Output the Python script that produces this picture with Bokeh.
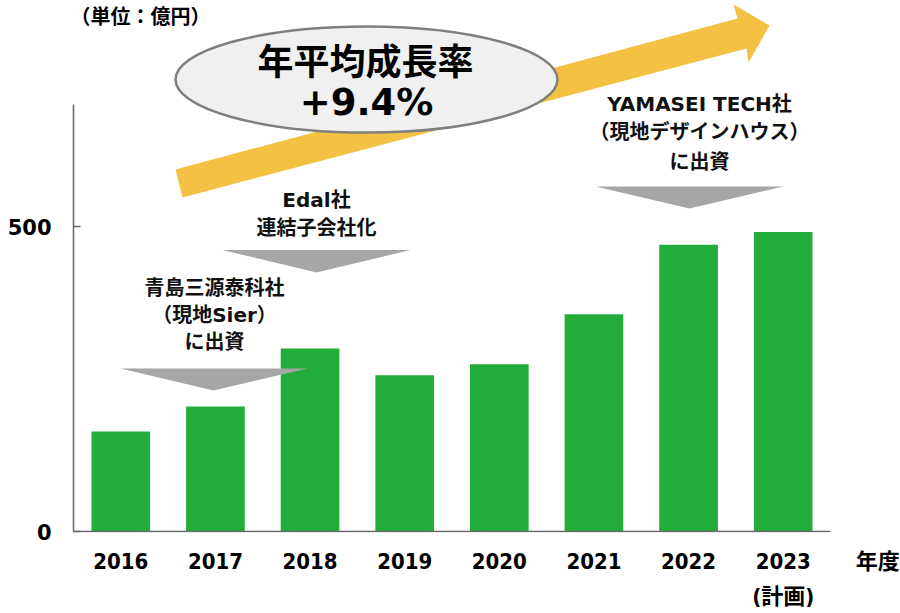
from bokeh.plotting import figure
from bokeh.models import Range1d, FixedTicker
from bokeh.core.properties import value
from bokeh.embed import file_html
from bokeh.resources import INLINE

# ---------------- data ----------------
years = ["2016", "2017", "2018", "2019", "2020", "2021", "2022", "2023"]
year_tick_labels = ["2016", "2017", "2018", "2019", "2020", "2021", "2022", "2023\n(計画)"]
sales = [164, 205, 300, 256, 274, 356, 470, 491]
y_ticks = [0, 500]
unit_text = "（単位：億円）"
x_title = "年度"
cagr_title = "年平均成長率"
cagr_value = "+9.4%"
event1_lines = ["青島三源泰科社", "（現地Sier）", "に出資"]
event2_lines = ["Edal社", "連結子会社化"]
event3_lines = ["YAMASEI TECH社", "（現地デザインハウス）", "に出資"]

# ---------------- layout ----------------
W, H = 900, 613
AX_L, AX_R = 73, 830          # x-axis line extent (page px)
Y0_PX = 531                   # y = 0 position (page px)
FRAME_B = 532                 # frame bottom (page px)
PX_PER_UNIT = 0.61
N = len(years)
PX_PER_CAT = (AX_R - AX_L) / N

x_end = -0.5 + (W - AX_L) / PX_PER_CAT
y_start = -(FRAME_B - Y0_PX) / PX_PER_UNIT
y_end = Y0_PX / PX_PER_UNIT


def X(px):
    return -0.5 + (px - AX_L) / PX_PER_CAT


def Y(py):
    return (Y0_PX - py) / PX_PER_UNIT


GREEN = "#22AD3A"
YELLOW = "#F4C142"
GRAY_TRI = "#A6A6A6"
AXIS = "#666666"
CJK = "Noto Sans CJK JP"
MIX = "DejaVu Sans, Noto Sans CJK JP"
COND = "DejaVu Sans Condensed, Noto Sans CJK JP"

p = figure(width=W, height=H, output_backend="svg", toolbar_location=None,
           x_range=Range1d(-0.5, x_end), y_range=Range1d(y_start, y_end),
           min_border_left=AX_L, min_border_right=0,
           min_border_top=0, min_border_bottom=H - FRAME_B)
p.outline_line_color = None
p.xgrid.visible = False
p.ygrid.visible = False
p.background_fill_color = "white"
p.border_fill_color = "white"

# bars
xs = list(range(N))
p.vbar(x=xs, top=sales, width=0.62, fill_color=GREEN, line_color=None)

# x axis base line (only under the categories)
p.segment(x0=[-0.5], y0=[0], x1=[N - 0.5], y1=[0], line_color=AXIS, line_width=1.5)

# growth arrow
arrow_px = [(175, 169), (737, 18), (733, 4), (769, 25), (748, 62), (746, 48), (182, 197)]
p.patch([X(a) for a, b in arrow_px], [Y(b) for a, b in arrow_px],
        fill_color=YELLOW, line_color=None)

# ellipse
p.ellipse(x=[X(366)], y=[Y(79)], width=[382], height=[106],
          width_units="screen", height_units="screen",
          fill_color="#F0F0F0", line_color="#7F7F7F", line_width=2.5)
p.text(x=[X(365)], y=[Y(58)], text=[cagr_title], text_align="center",
       text_baseline="middle", text_font=value(CJK), text_font_style="bold",
       text_font_size="36px", text_color="black")
p.text(x=[X(366)], y=[Y(102)], text=[cagr_value], text_align="center",
       text_baseline="middle", text_font=value("DejaVu Sans"), text_font_style="bold",
       text_font_size="37px", text_color="black")

# grey down triangles
tris = [[(120, 368), (307, 368), (213, 390)],
        [(222, 249.5), (410, 249.5), (316, 272)],
        [(595, 186), (783, 186), (689, 208)]]
p.patches([[X(a) for a, b in t] for t in tris], [[Y(b) for a, b in t] for t in tris],
          fill_color=GRAY_TRI, line_color=None)

# event texts
ev_specs = [(event1_lines, 214, [287, 314, 341]),
            (event2_lines, 316, [199, 227]),
            (event3_lines, 699, [103, 131, 161])]
tx, ty, tt = [], [], []
for lines, cx, ys in ev_specs:
    for line, yy in zip(lines, ys):
        tx.append(X(cx))
        ty.append(Y(yy))
        tt.append(line)
p.text(x=tx, y=ty, text=tt, text_align="center", text_baseline="middle",
       text_font=value(MIX), text_font_style="bold", text_font_size="20px",
       text_color="#111111")

# unit note (top left)
p.text(x=[X(140)], y=[Y(15)], text=[unit_text], text_align="center",
       text_baseline="middle", text_font=value(CJK), text_font_style="bold",
       text_font_size="20px", text_color="black")

# y axis
p.yaxis.ticker = FixedTicker(ticks=y_ticks)
p.yaxis.bounds = (0, 700)
p.yaxis.major_tick_in = 7
p.yaxis.major_tick_out = 0
p.yaxis.minor_tick_line_color = None
p.yaxis.major_label_standoff = 22
p.yaxis.major_label_text_font = "DejaVu Sans"
p.yaxis.major_label_text_font_style = "bold"
p.yaxis.major_label_text_font_size = "21px"
p.yaxis.major_label_text_color = "black"
p.yaxis.axis_line_color = AXIS
p.yaxis.axis_line_width = 1.5
p.yaxis.major_tick_line_color = AXIS
p.yaxis.major_tick_line_width = 1.5

# x axis: category labels plus the "年度" unit at the right end
x_ticks = xs + [N]
labels = year_tick_labels + [x_title]
p.xaxis.ticker = FixedTicker(ticks=x_ticks)
p.xaxis.major_label_overrides = {t: lab for t, lab in zip(x_ticks, labels)}
p.xaxis.major_tick_in = 0
p.xaxis.major_tick_out = 0
p.xaxis.minor_tick_line_color = None
p.xaxis.axis_line_color = None
p.xaxis.major_tick_line_color = None
p.xaxis.major_label_standoff = 16
p.xaxis.major_label_text_font = COND
p.xaxis.major_label_text_font_style = "bold"
p.xaxis.major_label_text_font_size = "22px"
p.xaxis.major_label_text_line_height = 1.4
p.xaxis.major_label_text_color = "black"

open("out.html", "w").write(file_html(p, INLINE))
